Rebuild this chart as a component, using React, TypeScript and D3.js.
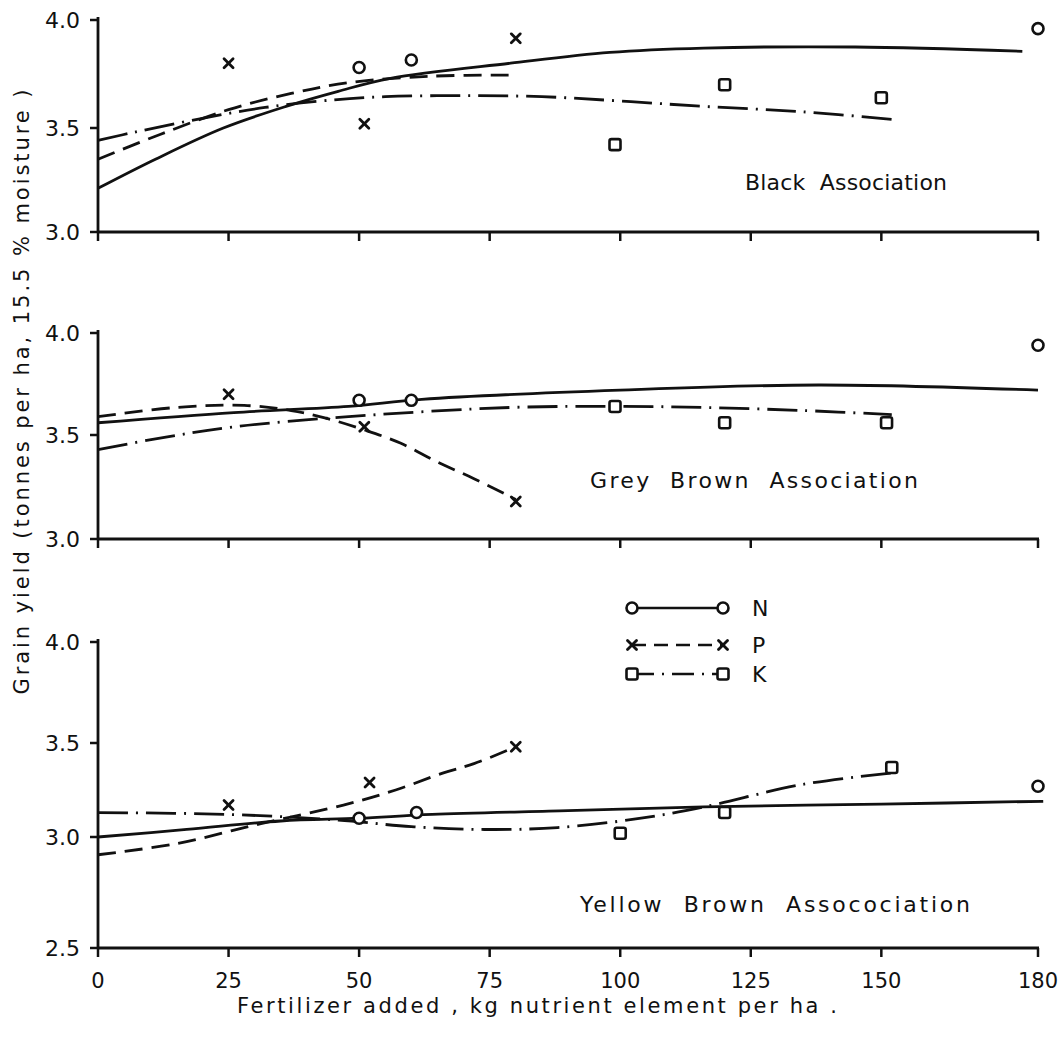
import React from 'react';
import * as d3 from 'd3';

// ---------- data ----------
const xTickValues = [0, 25, 50, 75, 100, 125, 150, 180];

// Black Association — observed points
const blackNPts: [number, number][] = [[50, 3.78], [60, 3.815], [180, 3.96]];
const blackPPts: [number, number][] = [[25, 3.80], [51, 3.52], [80, 3.915]];
const blackKPts: [number, number][] = [[99, 3.42], [120, 3.70], [150, 3.64]];
// Black Association — fitted curves
const blackNCurve: [number, number][] = [[0, 3.21], [11, 3.35], [24, 3.50], [36, 3.60], [46, 3.67], [56, 3.73], [79, 3.80], [98, 3.85], [116, 3.87], [145, 3.875], [177, 3.855]];
const blackPCurve: [number, number][] = [[0, 3.35], [12, 3.47], [25, 3.585], [37, 3.66], [48, 3.71], [64, 3.74], [80, 3.745]];
const blackKCurve: [number, number][] = [[0, 3.44], [7, 3.48], [20, 3.545], [32, 3.595], [45, 3.63], [55, 3.645], [70, 3.65], [85, 3.645], [100, 3.625], [116, 3.60], [135, 3.575], [152, 3.54]];

// Grey Brown Association — observed points
const greyNPts: [number, number][] = [[50, 3.67], [60, 3.67], [180, 3.94]];
const greyPPts: [number, number][] = [[25, 3.70], [51, 3.54], [80, 3.18]];
const greyKPts: [number, number][] = [[99, 3.64], [120, 3.56], [151, 3.56]];
// Grey Brown Association — fitted curves
const greyNCurve: [number, number][] = [[0, 3.56], [26, 3.61], [48, 3.64], [62, 3.675], [100, 3.72], [138, 3.745], [180, 3.72]];
const greyPCurve: [number, number][] = [[0, 3.59], [15, 3.635], [28, 3.645], [37, 3.62], [44, 3.58], [51, 3.525], [58, 3.46], [65, 3.37], [72, 3.29], [80, 3.19]];
const greyKCurve: [number, number][] = [[0, 3.43], [13, 3.49], [26, 3.54], [48, 3.59], [79, 3.635], [100, 3.64], [116, 3.635], [135, 3.62], [152, 3.60]];

// Yellow Brown Association — observed points
const yellowNPts: [number, number][] = [[50, 3.10], [61, 3.13], [180, 3.27]];
const yellowPPts: [number, number][] = [[25, 3.17], [52, 3.29], [80, 3.48]];
const yellowKPts: [number, number][] = [[100, 3.02], [120, 3.13], [152, 3.37]];
// Yellow Brown Association — fitted curves
const yellowNCurve: [number, number][] = [[0, 3.0], [17, 3.04], [35, 3.085], [50, 3.10], [64, 3.12], [90, 3.14], [116, 3.16], [150, 3.175], [181, 3.19]];
const yellowPCurve: [number, number][] = [[0, 2.92], [15, 2.97], [31, 3.07], [47, 3.17], [57, 3.25], [66, 3.34], [72, 3.39], [80, 3.48]];
const yellowKCurve: [number, number][] = [[0, 3.13], [25, 3.12], [46, 3.09], [60, 3.055], [74, 3.04], [88, 3.05], [104, 3.10], [116, 3.16], [135, 3.28], [152, 3.34]];

const topTicks = [3.0, 3.5, 4.0];
const bottomTicks = [2.5, 3.0, 3.5, 4.0];

const panelTitles = ['Black  Association', 'Grey  Brown  Association', 'Yellow  Brown  Assocociation'];
const legendNames = ['N', 'P', 'K'];
const yTitle = 'Grain yield (tonnes per ha, 15.5 % moisture )';
const xTitle = 'Fertilizer added , kg nutrient element per ha .';

// ---------- layout ----------
const panelLayout = [
  { ticks: topTicks, px: [232, 128, 20], title: { x: 745, y: 190, len: 202 } },
  { ticks: topTicks, px: [539, 435, 333], title: { x: 590, y: 488, len: 328 } },
  { ticks: bottomTicks, px: [948, 837, 743, 642], title: { x: 580, y: 912, len: 390 } },
];

const panelData = [
  { N: blackNPts, P: blackPPts, K: blackKPts, Nc: blackNCurve, Pc: blackPCurve, Kc: blackKCurve },
  { N: greyNPts, P: greyPPts, K: greyKPts, Nc: greyNCurve, Pc: greyPCurve, Kc: greyKCurve },
  { N: yellowNPts, P: yellowPPts, K: yellowKPts, Nc: yellowNCurve, Pc: yellowPCurve, Kc: yellowKCurve },
];

const STROKE = '#111';
const dashP = '18 9';
const dashK = '30 8 2 8';

function Marker({ kind, cx, cy }: { kind: string; cx: number; cy: number }) {
  if (kind === 'N') return <circle cx={cx} cy={cy} r={5.5} fill="#fff" stroke={STROKE} strokeWidth={2.6} />;
  if (kind === 'K') return <rect x={cx - 5.5} y={cy - 5.5} width={11} height={11} rx={2} fill="#fff" stroke={STROKE} strokeWidth={2.6} />;
  const s = 4.5;
  return (
    <g stroke={STROKE} strokeWidth={2.8} strokeLinecap="round">
      <line x1={cx - s} y1={cy - s} x2={cx + s} y2={cy + s} />
      <line x1={cx - s} y1={cy + s} x2={cx + s} y2={cy - s} />
    </g>
  );
}

export default function App() {
  const W = 1060, H = 1042;
  const x = d3.scaleLinear().domain([0, 180]).range([98, 1038]);
  const fmt = d3.format('.1f');

  return (
    <svg width={W} height={H} style={{ position: 'absolute', left: 0, top: 0, background: '#fff' }} fontFamily="DejaVu Sans" fill={STROKE}>
      {panelLayout.map((pl, i) => {
        const y = d3.scaleLinear().domain(pl.ticks).range(pl.px);
        const d = panelData[i];
        const line = d3.line<[number, number]>().x(p => x(p[0])).y(p => y(p[1])).curve(d3.curveCatmullRom.alpha(0.5));
        const yBottom = y(pl.ticks[0]);
        const yTop = y(pl.ticks[pl.ticks.length - 1]);
        return (
          <g key={i}>
            {/* axes */}
            <line x1={x(0)} y1={yTop - 3} x2={x(0)} y2={yBottom + 1} stroke={STROKE} strokeWidth={2.8} />
            <line x1={x(0) - 1} y1={yBottom} x2={x(180) + 1} y2={yBottom} stroke={STROKE} strokeWidth={3} />
            {pl.ticks.map(t => (
              <g key={t}>
                <line x1={x(0) - 8} y1={y(t)} x2={x(0)} y2={y(t)} stroke={STROKE} strokeWidth={2.5} />
                <text x={80} y={y(t)} textAnchor="end" dominantBaseline="central" fontSize={22}>{fmt(t)}</text>
              </g>
            ))}
            {xTickValues.map(t => (
              <line key={t} x1={x(t)} y1={yBottom} x2={x(t)} y2={yBottom + 9} stroke={STROKE} strokeWidth={2.5} />
            ))}
            {/* curves */}
            <path d={line(d.Nc) || ''} fill="none" stroke={STROKE} strokeWidth={2.8} />
            <path d={line(d.Pc) || ''} fill="none" stroke={STROKE} strokeWidth={2.8} strokeDasharray={dashP} />
            <path d={line(d.Kc) || ''} fill="none" stroke={STROKE} strokeWidth={2.8} strokeDasharray={dashK} />
            {/* points */}
            {d.N.map((p, j) => <Marker key={'n' + j} kind="N" cx={x(p[0])} cy={y(p[1])} />)}
            {d.P.map((p, j) => <Marker key={'p' + j} kind="P" cx={x(p[0])} cy={y(p[1])} />)}
            {d.K.map((p, j) => <Marker key={'k' + j} kind="K" cx={x(p[0])} cy={y(p[1])} />)}
            {/* title */}
            <text x={pl.title.x} y={pl.title.y} fontSize={22} textLength={pl.title.len} lengthAdjust="spacing" style={{ whiteSpace: 'pre' }}>
              {panelTitles[i]}
            </text>
          </g>
        );
      })}

      {/* x tick labels on bottom panel */}
      {xTickValues.map(t => (
        <text key={t} x={x(t)} y={988} textAnchor="middle" fontSize={21}>{String(t)}</text>
      ))}

      {/* legend */}
      {legendNames.map((n, i) => {
        const ly = [608, 645, 674][i];
        const dash = n === 'N' ? undefined : n === 'P' ? '14 8' : '22 8 2 8';
        return (
          <g key={n}>
            <line x1={632} y1={ly} x2={723} y2={ly} stroke={STROKE} strokeWidth={2.6} strokeDasharray={dash} />
            <Marker kind={n} cx={632} cy={ly} />
            <Marker kind={n} cx={723} cy={ly} />
            <text x={752} y={ly} dominantBaseline="central" fontSize={22}>{n}</text>
          </g>
        );
      })}

      {/* axis titles */}
      <text transform="translate(29,392) rotate(-90)" textAnchor="middle" fontSize={21} textLength={605} lengthAdjust="spacing">{yTitle}</text>
      <text x={237} y={1013} fontSize={21} textLength={600} lengthAdjust="spacing">{xTitle}</text>
    </svg>
  );
}
